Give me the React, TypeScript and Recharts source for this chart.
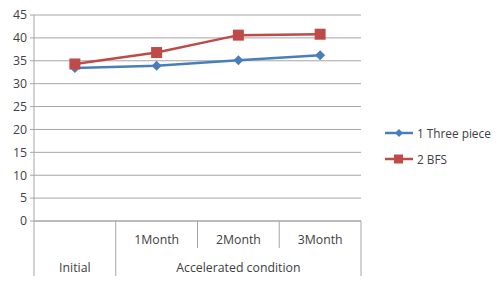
import { CartesianGrid, Line, LineChart, XAxis, YAxis } from "recharts"

// values
const categories = ["Initial", "1Month", "2Month", "3Month"]
const monthLabels = ["", "1Month", "2Month", "3Month"]
const groupLabels = ["Initial", "Accelerated condition"]
const groupSpans = [1, 3]
const seriesNames = ["1 Three piece", "2 BFS"]
const threePiece = [33.4, 33.9, 35.1, 36.2]
const bfs = [34.3, 36.8, 40.6, 40.8]
const yTicks = [0, 5, 10, 15, 20, 25, 30, 35, 40, 45]

const data = categories.map((c, i) => ({ category: c, threePiece: threePiece[i], bfs: bfs[i] }))

const BLUE = "#4a7ebb"
const RED = "#be4b48"
const GRID = "#a6a6a6"
const TEXT = "#404040"
const FONT = "'Open Sans', 'Liberation Sans', Arial, sans-serif"
const FS = 12.3

const Diamond = (props: any) => {
  const { cx, cy, fill } = props
  if (cx == null || cy == null) return null
  const r = 5
  return <path d={`M${cx},${cy - r}L${cx + r},${cy}L${cx},${cy + r}L${cx - r},${cy}Z`} fill={fill} />
}

const Square = (props: any) => {
  const { cx, cy, fill } = props
  if (cx == null || cy == null) return null
  const s = 11
  return <rect x={cx - s / 2} y={cy - s / 2} width={s} height={s} fill={fill} />
}

// two-row category axis: months on the first row, groups on the second
const CategoryTick = (props: any) => {
  const { x, y, index } = props
  const bw = 327 / categories.length
  const groupEnds: number[] = []
  let acc = 0
  groupSpans.forEach((s) => {
    acc += s
    groupEnds.push(acc - 1)
  })
  const els: any[] = []
  els.push(
    <text key="m" x={x} y={y + 23} textAnchor="middle" fill={TEXT} fontSize={FS} fontFamily={FONT}>
      {monthLabels[index]}
    </text>
  )
  if (index === 0) {
    els.push(<line key="l0" x1={x - bw / 2} x2={x - bw / 2} y1={y} y2={y + 55} stroke={GRID} />)
  }
  const isGroupEnd = groupEnds.includes(index)
  els.push(
    <line key="r" x1={x + bw / 2} x2={x + bw / 2} y1={y} y2={isGroupEnd ? y + 55 : y + 27} stroke={GRID} />
  )
  let groupStart = 0
  groupSpans.forEach((s, g) => {
    const mid = groupStart + (s - 1) / 2
    if (index === Math.floor(mid)) {
      const cx = x + (mid - index) * bw
      els.push(
        <text key={"g" + g} x={cx} y={y + 51} textAnchor="middle" fill={TEXT} fontSize={FS} fontFamily={FONT}>
          {groupLabels[g]}
        </text>
      )
    }
    groupStart += s
  })
  return <g>{els}</g>
}

const legendItems = [
  { label: seriesNames[0], color: BLUE, shape: "d" },
  { label: seriesNames[1], color: RED, shape: "s" },
]

export default function App() {
  return (
    <div style={{ position: "absolute", left: 0, top: 0, width: 500, height: 284, background: "#fff" }}>
      <LineChart width={500} height={284} data={data} margin={{ top: 15, right: 139, bottom: 0, left: 4 }}>
        <CartesianGrid vertical={false} stroke={GRID} />
        <XAxis
          dataKey="category"
          scale="band"
          axisLine={{ stroke: GRID }}
          tickLine={false}
          tickSize={0}
          tickMargin={0}
          tick={<CategoryTick />}
          interval={0}
          height={63}
        />
        <YAxis
          domain={[0, 45]}
          ticks={yTicks}
          axisLine={{ stroke: GRID }}
          tickLine={{ stroke: GRID }}
          tickSize={4}
          tickMargin={3}
          width={30}
          interval={0}
          tick={{ fill: TEXT, fontSize: FS, fontFamily: FONT }}
        />
        <Line
          dataKey="threePiece"
          name={seriesNames[0]}
          stroke={BLUE}
          strokeWidth={2.5}
          dot={<Diamond fill={BLUE} />}
          isAnimationActive={false}
        />
        <Line
          dataKey="bfs"
          name={seriesNames[1]}
          stroke={RED}
          strokeWidth={2.5}
          dot={<Square fill={RED} />}
          isAnimationActive={false}
        />
      </LineChart>
      <div style={{ position: "absolute", left: 384, top: 120, fontFamily: FONT, fontSize: 11.8, color: TEXT }}>
        {legendItems.map((item) => (
          <div key={item.label} style={{ display: "flex", alignItems: "center", height: 26 }}>
            <svg width={33} height={12}>
              <line x1={1} x2={29} y1={6} y2={6} stroke={item.color} strokeWidth={2.5} />
              {item.shape === "d" ? (
                <path d="M15,2L19,6L15,10L11,6Z" fill={item.color} />
              ) : (
                <rect x={10} y={1.5} width={9} height={9} fill={item.color} />
              )}
            </svg>
            <span>{item.label}</span>
          </div>
        ))}
      </div>
    </div>
  )
}
